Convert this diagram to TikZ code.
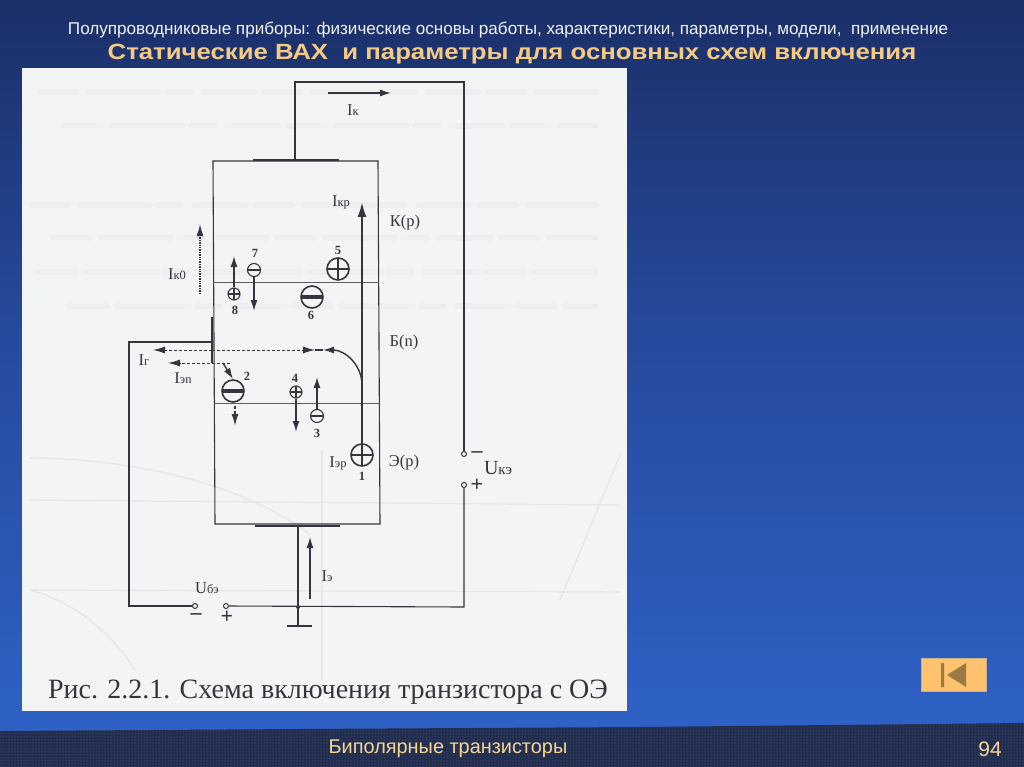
\documentclass[tikz,border=0pt]{standalone}
\usepackage{fontspec}
\setmainfont{Liberation Serif}
\newfontfamily\slidefont{Liberation Sans}
\usetikzlibrary{arrows.meta,patterns}
\definecolor{navytop}{HTML}{1B2F68}
\definecolor{navymid}{HTML}{264A9C}
\definecolor{bluelow}{HTML}{2F61C6}
\definecolor{bandcol}{HTML}{222C4C}
\definecolor{banddot}{HTML}{4E6A9E}
\definecolor{paper}{HTML}{F3F5F5}
\definecolor{inkcol}{HTML}{33363C}
\definecolor{ghostcol}{HTML}{E4E7E8}
\definecolor{ghostsoft}{HTML}{ECEEEF}
\definecolor{titlecol}{HTML}{F5CB82}
\definecolor{subcol}{HTML}{F2F2F2}
\definecolor{footcol}{HTML}{F6D594}
\definecolor{btncol}{HTML}{FFC26E}
\definecolor{btnmark}{HTML}{9C7A45}
\tikzset{
  wire/.style={draw=inkcol,line width=1.1pt},
  thick wire/.style={draw=inkcol,line width=2.8pt},
  layer/.style={draw=inkcol!80,line width=.9pt},
  flow/.style={draw=inkcol,line width=1.4pt,-{Latex[length=11pt,width=7pt]}},
  main flow/.style={draw=inkcol,line width=2.2pt,-{Latex[length=15pt,width=9pt]}},
  dash flow/.style={draw=inkcol,line width=.9pt,densely dashed,-{Latex[length=12pt,width=7pt]}},
  dot flow/.style={draw=inkcol,line width=1.4pt,densely dotted,-{Latex[length=12pt,width=7pt]}},
  ghost text/.style={draw=ghostsoft,line width=6pt,line cap=round,dash pattern=on 37pt off 11pt on 71pt off 8pt on 23pt off 13pt on 52pt off 9pt},
  lbl/.style={text=inkcol,font=\fontsize{16.5}{17}\selectfont,inner sep=0pt},
  num/.style={text=inkcol,font=\bfseries\fontsize{12.5}{13}\selectfont,inner sep=0pt},
  sign/.style={text=inkcol,font=\bfseries\fontsize{22}{22}\selectfont,inner sep=0pt},
  term/.style={circle,draw=inkcol,line width=1pt,fill=paper,inner sep=0pt,minimum size=5pt},
  plus big/.style={circle,draw=inkcol,line width=1.6pt,fill=paper,inner sep=0pt,minimum size=22pt,
    path picture={\draw[inkcol,line width=1.8pt] (path picture bounding box.north)--(path picture bounding box.south)
      (path picture bounding box.west)--(path picture bounding box.east);}},
  plus small/.style={plus big,line width=1.1pt,minimum size=12pt,
    path picture={\draw[inkcol,line width=1.1pt] (path picture bounding box.north)--(path picture bounding box.south)
      (path picture bounding box.west)--(path picture bounding box.east);}},
  minus big/.style={circle,draw=inkcol,line width=1.6pt,fill=paper,inner sep=0pt,minimum size=22pt,
    path picture={\draw[inkcol,line width=3.2pt] (path picture bounding box.west)--(path picture bounding box.east);}},
  minus small/.style={circle,draw=inkcol,line width=1.1pt,fill=paper,inner sep=0pt,minimum size=13pt,
    path picture={\draw[inkcol,line width=1.8pt] (path picture bounding box.west)--(path picture bounding box.east);}},
}
\newcommand{\subi}[2]{#1{\fontsize{12.5}{13}\selectfont #2}}
\begin{document}
\begin{tikzpicture}[x=1pt,y=-1pt]
      \useasboundingbox (0,0) rectangle (1024,767);
      % slide
      \fill[top color=navytop,bottom color=navymid] (0,0) rectangle (1024,330);
      \fill[top color=navymid,bottom color=bluelow] (0,330) rectangle (1024,732);
      \fill[bandcol] (0,731) -- (300,729) -- (640,727) -- (1024,723) -- (1024,767) -- (0,767) -- cycle;
      \fill[pattern=dots,pattern color=banddot] (0,731) -- (300,729) -- (640,727) -- (1024,723) -- (1024,767) -- (0,767) -- cycle;
      \fill[paper] (22,68) rectangle (627,711);
      % show-through of the scan
      \begin{scope}[draw=ghostcol,line width=1.4pt]
        \foreach \ghosty/\ghostx in {92/40,126/64,205/31,238/52,272/38,306/70}
          \draw[ghost text] (\ghostx,\ghosty) -- (596,\ghosty);
        \draw (30,458) .. controls (120,458) and (240,480) .. (310,535);
        \draw (30,590) .. controls (70,600) and (110,630) .. (135,670);
        \draw (620,455) -- (560,600);
        \draw (322,450) -- (322,680);
        \draw (30,500) -- (620,505);
        \draw (30,590) -- (620,592);
      \end{scope}
      \draw
        (508,30) node[text=subcol,font=\slidefont\fontsize{17.1}{18}\selectfont] (heading) {Полупроводниковые приборы: физические основы работы, характеристики, параметры, модели,\ \ применение}
        (512,54) node[xscale=1.17,text=titlecol,font=\slidefont\bfseries\fontsize{22}{23}\selectfont] (title) {Статические ВАХ\ \ и параметры для основных схем включения}
        (448,749) node[text=footcol,font=\slidefont\fontsize{19.9}{20}\selectfont] (footer) {Биполярные транзисторы}
        (990,749) node[text=footcol,font=\slidefont\fontsize{21}{22}\selectfont] (page) {94}
        (328,692) node[text=inkcol,font=\fontsize{28}{28}\selectfont] (caption) {Рис. 2.2.1. Схема включения транзистора с ОЭ};
      % back button
      \fill[btncol,draw=btnmark!60,line width=.6pt] (921,658) rectangle (986,691);
      \fill[btnmark] (941,663) rectangle (944,687) (966,663) -- (966,687) -- (947,675) -- cycle;
      % points of the circuit
      \coordinate (ctop) at (295,161);
      \coordinate (cleft) at (295,82);
      \coordinate (cright) at (464,82);
      \coordinate (bleft) at (129,342);
      \coordinate (bwire) at (212,342);
      \coordinate (bcorner) at (129,606);
      \coordinate (ecorner) at (464,607);
      \coordinate (ejoin) at (298,607);
      \coordinate (etop) at (298,527);
      \coordinate (gnd) at (298,626);
      \coordinate (gndl) at (287,626);
      \coordinate (gndr) at (312,626);
      \draw
        (195,606) node[term] (ub) {}
        (226,606) node[term] (ue) {}
        (464,454) node[term] (uk) {}
        (464,485) node[term] (uz) {}
        (362,455) node[plus big] (e1) {}
        (233,391) node[minus big] (e2) {}
        (317,416) node[minus small] (e3) {}
        (296,392) node[plus small] (e4) {}
        (338,269) node[plus big] (e5) {}
        (312,297) node[minus big] (e6) {}
        (254,270) node[minus small] (e7) {}
        (234,294) node[plus small] (e8) {}
        (362,476) node[num] (n1) {1}
        (247,376) node[num] (n2) {2}
        (317,433) node[num] (n3) {3}
        (295,378) node[num] (n4) {4}
        (338,250) node[num] (n5) {5}
        (311,315) node[num] (n6) {6}
        (255,253) node[num] (n7) {7}
        (235,310) node[num] (n8) {8}
        (353,110) node[lbl] (ik) {\subi{I}{к}}
        (341,202) node[lbl] (ikr) {\subi{I}{кр}}
        (177,274) node[lbl] (iko) {\subi{I}{к0}}
        (144,360) node[lbl] (ig) {\subi{I}{г}}
        (183,378) node[lbl] (ien) {\subi{I}{эn}}
        (338,463) node[lbl] (ier) {\subi{I}{эр}}
        (327,576) node[lbl] (ie) {\subi{I}{э}}
        (207,588) node[lbl] (ube) {\subi{U}{бэ}}
        (498,468) node[lbl,font=\fontsize{20}{20}\selectfont] (uke) {U{\fontsize{15}{15}\selectfont кэ}}
        (405,223) node[lbl] (kp) {К(р)}
        (404,343) node[lbl] (bn) {Б(n)}
        (404,463) node[lbl] (ep) {Э(р)}
        (196,617) node[sign] (sb) {–}
        (227,617) node[sign] (se) {+}
        (477,455) node[sign] (sk) {–}
        (477,485) node[sign] (sz) {+};
      % crystal
      \draw[wire] (213,161) -- (378,161) -- (380,524) -- (215,524) -- cycle;
      \draw[layer] (213,282) -- (379,282);
      \draw[layer] (214,403) -- (380,403);
      \draw[thick wire] (253,160) -- (339,160);
      \draw[thick wire] (255,526) -- (340,526);
      \draw[thick wire] (212,317) -- (212,363);
      \begin{scope}[wire]
        \draw (ctop) -- (cleft) -- (cright) -- (uk);
        \draw (uz) -- (ecorner) -- (ue);
        \draw (ub) -- (bcorner) -- (bleft) -- (bwire);
        \draw (etop) -- (gnd);
        \draw (gndl) -- (gndr);
      \end{scope}
      \fill[inkcol] (ejoin) circle (2pt);
      % currents
      \coordinate (ikfrom) at (328,93);
      \coordinate (ikto) at (391,93);
      \coordinate (mainfrom) at (362,445);
      \coordinate (mainto) at (362,202);
      \coordinate (bendfrom) at (362,385);
      \coordinate (bendto) at (323,350);
      \coordinate (igmid) at (212,350);
      \coordinate (igto) at (153,350);
      \coordinate (igrev) at (315,350);
      \coordinate (ienfrom) at (230,363);
      \coordinate (iento) at (168,363);
      \coordinate (eaim) at (233,379);
      \coordinate (efrom) at (223,363);
      \coordinate (esmallfrom) at (235,406);
      \coordinate (esmallto) at (235,426);
      \coordinate (ikofrom) at (200,294);
      \coordinate (ikoto) at (200,224);
      \coordinate (iefrom) at (310,599);
      \coordinate (ieto) at (310,537);
      \draw[flow] (ikfrom) to (ikto);
      \draw[main flow] (mainfrom) to (mainto);
      \draw[flow] (bendfrom) .. controls (362,365) and (345,350) .. (bendto);
      \draw[wire] (igrev) to (bendto);
      \draw[dash flow] (igmid) to (igto);
      \draw[dash flow] (igmid) to (igrev);
      \draw[dash flow] (ienfrom) to (iento);
      \draw[flow] (efrom) to (eaim);
      \draw[dash flow,line width=1.5pt] (esmallfrom) to (esmallto);
      \draw[dot flow] (ikofrom) to (ikoto);
      \draw[flow] (iefrom) to (ieto);
      \draw[flow] (e3) to (317,377);
      \draw[flow] (e4) to (296,432);
      \draw[flow] (e7) to (254,311);
      \draw[flow] (e8) to (234,256);
\end{tikzpicture}
\end{document}
